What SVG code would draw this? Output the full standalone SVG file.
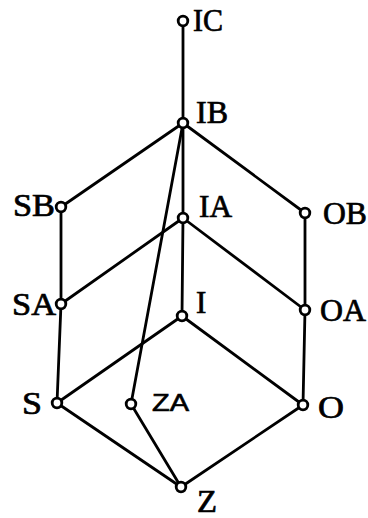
<svg xmlns="http://www.w3.org/2000/svg" width="368" height="518" viewBox="0 0 368 518">
<style>
.e{stroke:#000;stroke-width:2.8;fill:none;stroke-linecap:round}
.n{fill:#fff;stroke:#000;stroke-width:2.8}
.t{font-family:"Liberation Serif",serif;font-size:31px;fill:#000;stroke:#000;stroke-width:0.7}
.s{font-family:"Liberation Sans",sans-serif;font-size:23px;fill:#000;stroke:#000;stroke-width:0.6}
</style>
<rect width="368" height="518" fill="#fff"/>
<g id="edges">
<line class="e" x1="183" y1="21" x2="183" y2="123"/>
<line class="e" x1="183" y1="123" x2="61" y2="207"/>
<line class="e" x1="183" y1="123" x2="305" y2="213"/>
<line class="e" x1="183" y1="123" x2="183" y2="218"/>
<line class="e" x1="183" y1="123" x2="131" y2="404"/>
<line class="e" x1="61" y1="207" x2="61" y2="304"/>
<line class="e" x1="305" y1="213" x2="305" y2="310"/>
<line class="e" x1="183" y1="218" x2="61" y2="304"/>
<line class="e" x1="183" y1="218" x2="305" y2="310"/>
<line class="e" x1="183" y1="218" x2="182" y2="316"/>
<line class="e" x1="61" y1="304" x2="57" y2="403"/>
<line class="e" x1="305" y1="310" x2="303" y2="405"/>
<line class="e" x1="182" y1="316" x2="57" y2="403"/>
<line class="e" x1="182" y1="316" x2="303" y2="405"/>
<line class="e" x1="57" y1="403" x2="181" y2="487"/>
<line class="e" x1="131" y1="404" x2="181" y2="487"/>
<line class="e" x1="303" y1="405" x2="181" y2="487"/>
</g>
<g id="IC"><circle class="n" cx="183" cy="21" r="4.8"/><text class="t" x="193" y="31" textLength="30" lengthAdjust="spacingAndGlyphs">IC</text></g>
<g id="IB"><circle class="n" cx="183" cy="123" r="4.8"/><text class="t" x="196" y="123" textLength="32" lengthAdjust="spacingAndGlyphs">IB</text></g>
<g id="IA"><circle class="n" cx="183" cy="218" r="4.8"/><text class="t" x="199" y="217" textLength="33" lengthAdjust="spacingAndGlyphs">IA</text></g>
<g id="I"><circle class="n" cx="182" cy="316" r="4.8"/><text class="t" x="196" y="313">I</text></g>
<g id="SB"><circle class="n" cx="61" cy="207" r="4.8"/><text class="t" x="13" y="216" textLength="42" lengthAdjust="spacingAndGlyphs">SB</text></g>
<g id="SA"><circle class="n" cx="61" cy="304" r="4.8"/><text class="t" x="12" y="315" textLength="44" lengthAdjust="spacingAndGlyphs">SA</text></g>
<g id="S"><circle class="n" cx="57" cy="403" r="4.8"/><text class="t" x="22" y="414" textLength="20" lengthAdjust="spacingAndGlyphs">S</text></g>
<g id="OB"><circle class="n" cx="305" cy="213" r="4.8"/><text class="t" x="323" y="224" textLength="44" lengthAdjust="spacingAndGlyphs">OB</text></g>
<g id="OA"><circle class="n" cx="305" cy="310" r="4.8"/><text class="t" x="320" y="321" textLength="46" lengthAdjust="spacingAndGlyphs">OA</text></g>
<g id="O"><circle class="n" cx="303" cy="405" r="4.8"/><text class="t" x="318" y="418" textLength="26" lengthAdjust="spacingAndGlyphs">O</text></g>
<g id="ZA"><circle class="n" cx="131" cy="404" r="4.8"/><text class="s" x="152" y="411" textLength="37" lengthAdjust="spacingAndGlyphs">ZA</text></g>
<g id="Z"><circle class="n" cx="181" cy="487" r="4.8"/><text class="t" x="197" y="512" textLength="20" lengthAdjust="spacingAndGlyphs">Z</text></g>
</svg>
